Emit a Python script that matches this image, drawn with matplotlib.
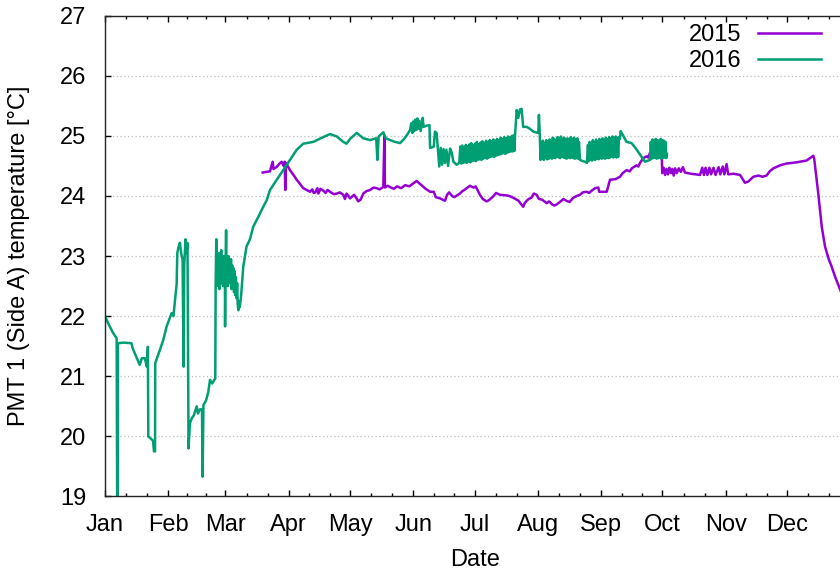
import matplotlib
matplotlib.use("Agg")
import matplotlib.pyplot as plt
from matplotlib.ticker import FixedLocator

# Day of year (0 = Jan 1) and PMT 1 side-A temperature [°C]
days_2015 = [
    77.2, 79.0, 80.8, 82.1, 82.5, 84.0, 85.5, 86.5, 87.5, 88.0, 88.3, 88.6,
    90.6, 92.3, 93.9, 95.5, 97.1, 100.4, 101.5, 102.2, 103.0, 104.0, 104.5,
    105.5, 106.9, 108.0, 109.0, 110.2, 112.0, 113.5, 115.0, 116.7, 117.5,
    118.3, 119.0, 120.0, 121.0, 122.0, 123.2, 124.0, 125.2, 126.5, 128.0,
    129.8, 131.5, 133.0, 134.5, 136.3, 136.8, 137.1, 138.5, 140.0, 141.5,
    143.0, 145.0, 147.0, 149.0, 151.0, 152.6, 155.0, 157.0, 159.2, 161.0,
    162.0, 164.1, 166.5, 167.5, 168.5, 170.0, 171.0, 173.8, 175.0, 176.0,
    178.7, 180.5, 181.5, 183.6, 185.0, 186.9, 188.0, 190.0, 191.5, 193.4,
    196.5, 198.0, 200.0, 202.5, 204.8, 205.5, 206.5, 207.5, 208.8, 210.0,
    211.4, 212.5, 214.0, 216.3, 217.5, 219.0, 220.0, 221.2, 223.5, 224.5,
    226.0, 227.5, 229.3, 231.0, 232.6, 234.0, 235.9, 237.0, 238.8, 240.0,
    241.6, 242.0, 245.7, 247.3, 250.0, 252.2, 253.5, 255.4, 257.0, 258.0,
    260.3, 261.2, 262.0, 263.6, 265.2, 266.0, 266.9, 268.5, 270.1, 271.5,
    272.6, 272.9, 273.6, 274.3, 275.0, 275.7, 276.4, 277.1, 277.8, 278.5,
    279.2, 280.0, 281.0, 282.0, 283.0, 284.0, 287.0, 291.4, 292.5, 293.3,
    294.1, 295.0, 296.0, 296.8, 298.0, 299.0, 300.5, 301.3, 302.5, 303.3,
    304.4, 305.2, 307.7, 311.0, 313.4, 315.0, 317.5, 320.0, 322.0, 324.0,
    325.5, 327.3, 330.6, 333.8, 338.7, 343.6, 346.9, 347.3, 349.3, 351.0,
    352.6, 354.3, 355.9, 357.5, 360.5,
]
temp_2015 = [
    24.39, 24.40, 24.41, 24.57, 24.45, 24.48, 24.54, 24.57, 24.50, 24.57, 24.10, 24.55,
    24.43, 24.35, 24.27, 24.20, 24.13, 24.07, 24.11, 24.05, 24.06, 24.13, 24.04,
    24.12, 24.09, 24.05, 24.10, 24.07, 24.03, 24.04, 24.06, 24.02, 23.95,
    24.04, 24.01, 23.96, 23.99, 24.02, 23.96, 23.91, 23.94, 24.04, 24.08,
    24.10, 24.14, 24.13, 24.11, 24.15, 25.00, 24.14, 24.17, 24.14, 24.12,
    24.16, 24.13, 24.18, 24.16, 24.21, 24.25, 24.18, 24.12, 24.07, 24.07,
    23.98, 23.96, 23.92, 24.02, 24.06, 24.00, 23.98, 24.04, 24.08, 24.10,
    24.17, 24.14, 24.16, 24.02, 23.95, 23.91, 23.93, 23.99, 24.05, 24.02,
    24.01, 24.00, 23.97, 23.92, 23.82, 23.88, 23.92, 23.95, 23.97, 24.04,
    24.02, 23.95, 23.94, 23.88, 23.91, 23.86, 23.84, 23.86, 23.92, 23.95,
    23.92, 23.90, 23.97, 24.00, 24.02, 24.06, 24.07, 24.05, 24.10, 24.13,
    24.14, 24.07, 24.07, 24.27, 24.28, 24.32, 24.38, 24.43, 24.41, 24.46,
    24.51, 24.49, 24.55, 24.63, 24.66, 24.64, 24.72, 24.74, 24.77, 24.70,
    24.70, 24.38, 24.47, 24.35, 24.45, 24.36, 24.47, 24.38, 24.45, 24.34,
    24.46, 24.38, 24.46, 24.40, 24.48, 24.39, 24.37, 24.35, 24.47, 24.35,
    24.47, 24.35, 24.47, 24.36, 24.47, 24.35, 24.48, 24.36, 24.49, 24.36,
    24.53, 24.36, 24.37, 24.35, 24.22, 24.24, 24.32, 24.34, 24.32, 24.34,
    24.41, 24.46, 24.51, 24.54, 24.56, 24.59, 24.67, 24.62, 24.04, 23.49,
    23.16, 22.96, 22.82, 22.66, 22.40,
]

days_2016 = [
    0.0, 2.0, 4.0, 5.7, 6.0, 6.3, 9.0, 13.0, 13.5, 15.0, 17.0, 18.0, 19.5,
    20.5, 21.0, 21.2, 23.5, 24.0, 24.5, 24.6, 26.9, 28.5, 30.2, 31.5, 32.6,
    33.5, 34.3, 35.1, 35.4, 36.0, 36.7, 37.3, 38.0, 38.5, 38.8, 39.4, 39.9,
    40.4, 40.9, 41.6, 42.5, 43.5, 44.9, 45.5, 46.5, 47.5, 47.8, 48.2, 49.5,
    50.6, 51.4, 52.5, 53.5, 54.0,
    54.2, 54.5, 54.8, 55.1, 55.4, 55.7, 56.0, 56.3, 56.6, 56.9, 57.2, 57.5,
    57.8, 58.1, 58.4, 58.7, 58.8, 59.0, 59.3, 59.6, 59.9, 60.2, 60.5, 60.8,
    61.1, 61.4, 61.7, 62.0, 62.3, 62.6, 62.9, 63.2, 63.5, 63.8, 64.1, 64.4,
    64.7, 65.0, 65.3, 65.6, 66.0, 66.7,
    67.7, 69.3, 71.0, 72.6, 74.3, 75.9, 77.5, 79.2, 80.8, 84.1, 87.3, 90.6,
    93.9, 97.1, 102.0, 106.9, 110.2, 113.5, 116.7, 118.3, 120.0, 123.3,
    126.5, 129.8, 132.8, 133.4, 134.0, 136.3, 137.5, 139.6, 142.0, 144.5,
    146.5, 148.0, 149.4, 150.0, 150.5, 151.0, 151.5, 152.0, 152.5, 153.0,
    153.5, 154.0, 154.6, 155.6, 156.0, 157.5, 158.9, 159.2, 161.0, 161.6,
    162.4, 163.0, 163.7, 164.4, 165.1, 165.8, 166.5, 167.2, 168.0, 169.0,
    169.8, 170.6, 172.2, 173.5,
    174.0, 174.45, 174.9, 175.35, 175.8, 176.25, 176.7, 177.15, 177.6, 178.05,
    178.5, 178.95, 179.4, 179.85, 180.3, 180.75, 181.2, 181.65, 182.1, 182.55,
    183.0, 183.45, 183.9, 184.35, 184.8, 185.25, 185.7, 186.15, 186.6, 187.05,
    187.5, 187.95, 188.4, 188.85, 189.3, 189.75, 190.2, 190.65, 191.1, 191.55,
    192.0, 192.45, 192.9, 193.35, 193.8, 194.25, 194.7, 195.15, 195.6, 196.05,
    196.5, 196.95, 197.4, 197.85, 198.3, 198.75, 199.2, 199.65, 200.1, 200.55,
    200.8, 201.6, 202.4, 203.2, 204.0, 204.5, 204.8, 206.5, 208.0, 209.8,
    211.0, 212.2, 212.5, 212.9,
    213.3, 213.7, 214.1, 214.5, 214.9, 215.3, 215.7, 216.1, 216.5, 216.9,
    217.3, 217.7, 218.1, 218.5, 218.9, 219.3, 219.7, 220.1, 220.5, 220.9,
    221.3, 221.7, 222.1, 222.5, 222.9, 223.3, 223.7, 224.1, 224.5, 224.9,
    225.3, 225.7, 226.1, 226.5, 226.9, 227.3, 227.7, 228.1, 228.5, 228.9,
    229.3, 229.7, 230.1, 230.5, 230.9, 231.3, 231.7, 232.1, 232.6, 234.0,
    235.0, 236.0,
    236.5, 236.9, 237.3, 237.7, 238.1, 238.5, 238.9, 239.3, 239.7, 240.1,
    240.5, 240.9, 241.3, 241.7, 242.1, 242.5, 242.9, 243.3, 243.7, 244.1,
    244.5, 244.9, 245.3, 245.7, 246.1, 246.5, 246.9, 247.3, 247.7, 248.1,
    248.5, 248.9, 249.3, 249.7, 250.1, 250.5, 250.9, 251.3, 251.7, 252.2,
    252.5, 253.5, 255.4, 257.9, 260.4, 262.8, 264.4,
    266.9, 267.3, 267.7, 268.1, 268.5, 268.9, 269.3, 269.7, 270.1, 270.5,
    270.9, 271.3, 271.7, 272.1, 272.5, 272.9, 273.3, 273.7, 274.1, 274.5,
    274.9, 275.2,
]
temp_2016 = [
    22.00, 21.85, 21.72, 21.63, 18.50, 21.55, 21.56, 21.55, 21.47, 21.35, 21.19, 21.30, 21.30,
    21.16, 21.49, 20.00, 19.93, 19.75, 19.75, 21.22, 21.44, 21.60, 21.83, 21.95, 22.05,
    22.00, 22.27, 22.54, 23.05, 23.15, 23.22, 23.05, 22.94, 21.16, 22.84, 23.28, 23.05,
    23.22, 19.80, 20.22, 20.30, 20.35, 20.50, 20.38, 20.45, 20.45, 19.33, 20.52, 20.60,
    20.74, 20.94, 20.88, 20.94, 20.96,
    22.55, 23.28, 22.70, 22.95, 22.50, 23.05, 22.45, 22.90, 22.60, 23.10, 22.55, 22.95,
    22.50, 23.00, 22.55, 22.85, 21.83, 22.80, 23.43, 22.60, 22.95, 22.50, 23.00, 22.55,
    22.90, 22.60, 22.95, 22.45, 22.85, 22.50, 22.80, 22.40, 22.75, 22.35, 22.65, 22.30,
    22.55, 22.20, 22.10, 22.25, 22.15, 22.36,
    22.82, 23.16, 23.28, 23.49, 23.60, 23.71, 23.82, 23.93, 24.10, 24.27, 24.43, 24.60,
    24.77, 24.87, 24.90, 24.98, 25.03, 24.99, 24.90, 24.87, 24.95, 25.05,
    24.96, 24.93, 24.96, 24.60, 24.99, 25.06, 24.96, 24.93, 24.90, 24.88,
    24.95, 25.02, 25.10, 25.21, 25.05, 25.24, 25.08, 25.27, 25.10, 25.29,
    25.12, 25.25, 25.08, 25.30, 25.15, 25.17, 25.18, 24.80, 24.82, 25.07,
    25.05, 24.79, 24.49, 24.80, 24.52, 24.78, 24.55, 24.77, 24.50, 24.79,
    24.72, 24.57, 24.52, 24.55,
    24.82, 24.54, 24.84, 24.55, 24.80, 24.56, 24.85, 24.55, 24.83, 24.57,
    24.86, 24.56, 24.88, 24.58, 24.84, 24.59, 24.87, 24.58, 24.90, 24.60,
    24.86, 24.61, 24.89, 24.60, 24.91, 24.62, 24.88, 24.63, 24.92, 24.62,
    24.90, 24.64, 24.93, 24.65, 24.91, 24.66, 24.94, 24.65, 24.92, 24.67,
    24.95, 24.68, 24.93, 24.69, 24.97, 24.70, 24.95, 24.71, 24.98, 24.70,
    24.96, 24.72, 24.99, 24.73, 24.97, 24.74, 25.00, 24.74, 25.01, 24.75,
    25.01, 25.43, 25.30, 25.44, 25.45, 25.25, 25.15, 25.15, 25.12, 25.07,
    25.06, 25.05, 25.35, 25.03,
    24.60, 24.90, 24.62, 24.92, 24.60, 24.88, 24.63, 24.93, 24.61, 24.90,
    24.62, 24.94, 24.63, 24.91, 24.62, 24.97, 24.64, 24.95, 24.63, 24.92,
    24.65, 24.98, 24.64, 24.96, 24.63, 24.99, 24.65, 24.95, 24.64, 24.97,
    24.63, 24.93, 24.62, 24.96, 24.64, 24.92, 24.63, 24.98, 24.64, 24.95,
    24.63, 24.97, 24.62, 24.94, 24.63, 24.96, 24.62, 24.90, 24.60, 24.58,
    24.57, 24.55,
    24.85, 24.58, 24.90, 24.60, 24.88, 24.59, 24.93, 24.61, 24.90, 24.60,
    24.94, 24.62, 24.91, 24.61, 24.95, 24.63, 24.92, 24.62, 24.96, 24.63,
    24.93, 24.62, 24.97, 24.64, 24.94, 24.63, 24.98, 24.64, 24.95, 24.65,
    24.99, 24.64, 24.96, 24.65, 24.99, 24.64, 24.97, 24.65, 24.98, 24.95,
    25.08, 25.02, 24.90, 24.88, 24.77, 24.65, 24.57,
    24.60, 24.90, 24.62, 24.94, 24.63, 24.93, 24.64, 24.95, 24.62, 24.93,
    24.63, 24.92, 24.64, 24.95, 24.62, 24.93, 24.63, 24.92, 24.64, 24.90,
    24.63, 24.70,
]

month_labels = ["Jan", "Feb", "Mar", "Apr", "May", "Jun",
                "Jul", "Aug", "Sep", "Oct", "Nov", "Dec"]
month_lengths = [31, 28, 31, 30, 31, 30, 31, 31, 30, 31, 30, 31]

color_2015 = "#9400d3"
color_2016 = "#009e73"

plt.rcParams["font.family"] = ["Liberation Sans", "DejaVu Sans"]
plt.rcParams["font.size"] = 17

fig = plt.figure(figsize=(8.4, 5.72), dpi=100)
ax = fig.add_axes([0.125, 0.132, 0.8873, 0.8406])

ax.plot(days_2015, temp_2015, color=color_2015, lw=1.8, label="2015")
ax.plot(days_2016, temp_2016, color=color_2016, lw=1.8, label="2016")

ax.set_xlim(0, 365)
ax.set_ylim(19, 27)

# month ticks, with two minor ticks per month
starts = [0]
for n in month_lengths[:-1]:
    starts.append(starts[-1] + n)
minor = []
for s, n in zip(starts, month_lengths):
    minor += [s + n / 3, s + 2 * n / 3]
ax.xaxis.set_major_locator(FixedLocator(starts))
ax.xaxis.set_minor_locator(FixedLocator(minor))
ax.set_xticklabels(month_labels)
ax.set_yticks(range(19, 28))

ax.tick_params(axis="both", which="major", direction="in", length=4.5,
               width=1, top=True, right=True, colors="black")
ax.tick_params(axis="x", which="major", pad=12.5)
ax.tick_params(axis="y", which="major", pad=13.5)
ax.tick_params(axis="x", which="minor", direction="in", length=2.2,
               width=1, top=True)

for y in range(20, 27):
    ax.axhline(y, color="#bdbdbd", lw=0.9, ls=(0, (1, 2)), zorder=0)

for sp in ax.spines.values():
    sp.set_linewidth(1.0)
    sp.set_color("#222222")

ax.set_xlabel("Date")
ax.set_ylabel("PMT 1 (Side A) temperature [°C]")
ax.xaxis.set_label_coords(0.496, -0.110)
ax.yaxis.set_label_coords(-0.1006, 0.5)

leg = ax.legend(loc="upper right", bbox_to_anchor=(821 / 840, 1 - 24 / 572),
                bbox_transform=fig.transFigure, frameon=False, markerfirst=False,
                handlelength=2.68, handletextpad=0.68, labelspacing=0.16,
                borderpad=0, borderaxespad=0)

fig.savefig("out.png", dpi=100)
